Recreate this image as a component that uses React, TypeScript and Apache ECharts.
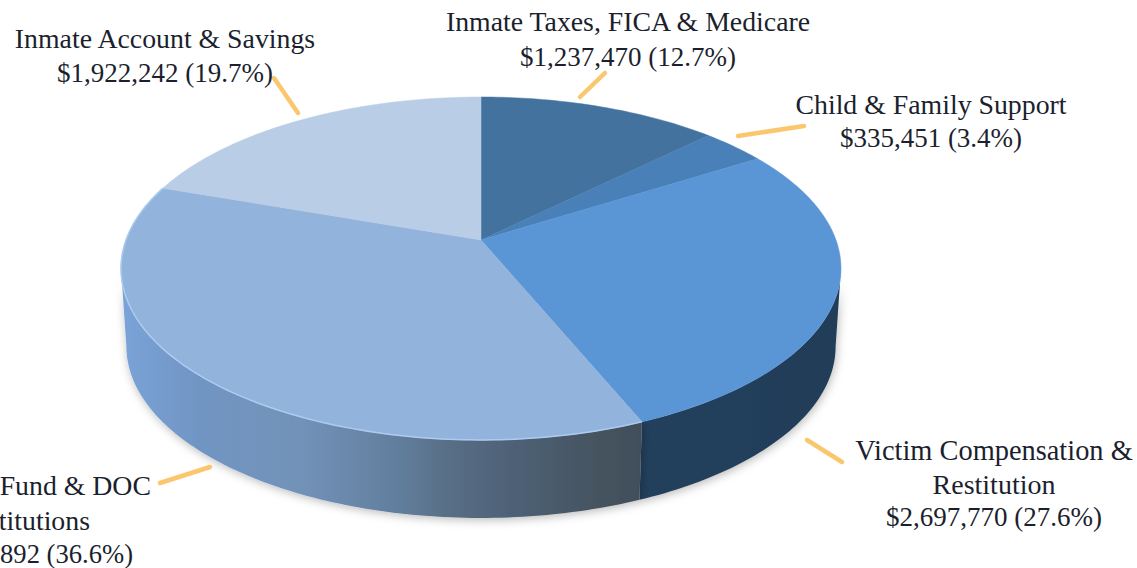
import React, { useEffect, useRef } from "react";
import * as echarts from "echarts";

// Slices, clockwise from 12 o'clock
const sliceNames = [
  "Inmate Taxes, FICA & Medicare",
  "Child & Family Support",
  "Victim Compensation & Restitution",
  "Fund & DOC Institutions",
  "Inmate Account & Savings",
];
const sliceValues = [1237470, 335451, 2697770, 3572892, 1922242];
const topColors = ["#44729f", "#4a80b8", "#5a96d6", "#92b3dc", "#b9cde6"];
const total = sliceValues.reduce((a, b) => a + b, 0);

// Labels
const labelTexts = [
  ["Inmate Taxes, FICA & Medicare", "$1,237,470 (12.7%)"],
  ["Child & Family Support", "$335,451 (3.4%)"],
  ["Victim Compensation &", "Restitution", "$2,697,770 (27.6%)"],
  ["Inmate Account & Savings", "$1,922,242 (19.7%)"],
];
const clippedTexts = ["Fund & DOC", "titutions", "892 (36.6%)"];

// Layout
const W = 1137;
const H = 568;
const apexX = 481;
const apexY = 240;
const scaleK = 355;
const persp = -0.166;
const scaleY = 126.9;
const depth = 78;
const bottomShrink = 0.985;
// Fractions of the turn at which the rim leaves the visible front of the disc
const frontStart = Math.acos(persp) / (2 * Math.PI);
const frontEnd = 1 - frontStart;

const project = (frac: number) => {
  const t = frac * Math.PI * 2;
  const ux = Math.sin(t);
  const uy = -Math.cos(t);
  const d = 1 + persp * uy;
  return [apexX + (scaleK * ux) / d, (scaleY * uy + apexY) / d];
};

const arcPoints = (f0: number, f1: number) => {
  const n = Math.max(4, Math.ceil((f1 - f0) * 360));
  const pts: number[][] = [];
  for (let i = 0; i <= n; i++) pts.push(project(f0 + ((f1 - f0) * i) / n));
  return pts;
};

const range = (i: number) => {
  let s = 0;
  for (let k = 0; k < i; k++) s += sliceValues[k];
  return [s / total, (s + sliceValues[i]) / total];
};

const lg = (stops: [number, string][]) => ({
  type: "linear",
  x: 0,
  y: 0,
  x2: 1,
  y2: 0,
  colorStops: stops.map(([offset, color]) => ({ offset, color })),
});

const wallFill = (i: number) => {
  if (i === 3)
    return lg([
      [0, "#7aa3d8"],
      [0.15, "#7195c3"],
      [0.345, "#7292b8"],
      [0.54, "#617d9c"],
      [0.61, "#5a7189"],
      [0.73, "#4f6379"],
      [0.92, "#45535f"],
      [1, "#424e5a"],
    ]);
  return lg([
    [0, "#233f5b"],
    [0.5, "#233f5b"],
    [1, "#203c58"],
  ]);
};

const wallPolygon = (i: number) => {
  const [r0, r1] = range(i);
  const f0 = Math.max(r0, frontStart);
  const f1 = Math.min(r1, frontEnd);
  if (f1 <= f0) return null;
  const top = arcPoints(f0, f1);
  const bottom = top
    .map(([x, y]) => [apexX + (x - apexX) * bottomShrink, y + depth])
    .reverse();
  return top.concat(bottom);
};

const leaderLines = [
  [580, 97, 605, 73],
  [738, 136, 804, 126],
  [807, 440, 842, 462],
  [160, 483, 210, 467],
  [274, 78, 298, 113],
];

const labelPlaces = [
  { x: 628, ys: [21, 57], sizes: [27.8, 27] },
  { x: 931, ys: [104, 138], sizes: [27.8, 27] },
  { x: 994, ys: [450, 484, 517], sizes: [28.4, 28, 27] },
  { x: 165, ys: [38, 73], sizes: [27.8, 27] },
];
const clippedPlaces = [
  { x: 151, y: 485, size: 27.8 },
  { x: 90, y: 520, size: 27.8 },
  { x: 133, y: 554, size: 26.6 },
];

const textEl = (text: string, x: number, y: number, align: string, size: number) => ({
  type: "text",
  z: 20,
  style: {
    text,
    x,
    y,
    align,
    verticalAlign: "middle",
    fill: "#1b1f2e",
    font: `${size}px 'Liberation Serif'`,
  },
});

export default function App() {
  const ref = useRef<HTMLDivElement>(null);

  useEffect(() => {
    if (!ref.current) return;
    const chart = echarts.init(ref.current, undefined, { renderer: "svg" });
    const graphics: any[] = [];
    leaderLines.forEach(([x1, y1, x2, y2]) =>
      graphics.push({
        type: "line",
        z: 15,
        shape: { x1, y1, x2, y2 },
        style: { stroke: "#fac76e", lineWidth: 4.5, lineCap: "round" },
      })
    );
    labelTexts.forEach((lines, i) =>
      lines.forEach((t, j) =>
        graphics.push(
          textEl(t, labelPlaces[i].x, labelPlaces[i].ys[j], "center", labelPlaces[i].sizes[j])
        )
      )
    );
    clippedTexts.forEach((t, i) =>
      graphics.push(textEl(t, clippedPlaces[i].x, clippedPlaces[i].y, "right", clippedPlaces[i].size))
    );

    const seriesData = sliceNames.map((name, i) => ({ name, value: sliceValues[i] }));

    chart.setOption({
      animation: false,
      backgroundColor: "#ffffff",
      graphic: { elements: graphics },
      series: [
        {
          type: "custom",
          coordinateSystem: "none",
          silent: true,
          z: 2,
          data: seriesData,
          renderItem: (params: any) => {
            const points = wallPolygon(params.dataIndex);
            if (!points) return { type: "group", children: [] };
            return {
              type: "polygon",
              shape: { points },
              style: {
                fill: wallFill(params.dataIndex),
                shadowBlur: 10,
                shadowColor: "rgba(0,0,0,0.28)",
                shadowOffsetX: 1,
                shadowOffsetY: 2,
              },
            };
          },
        },
        {
          type: "custom",
          coordinateSystem: "none",
          silent: true,
          z: 3,
          data: seriesData,
          renderItem: (params: any) => {
            const i = params.dataIndex;
            const [f0, f1] = range(i);
            const arc = arcPoints(f0, f1);
            return {
              type: "group",
              children: [
                {
                  type: "polygon",
                  shape: { points: [[apexX, apexY], ...arc] },
                  style: { fill: topColors[i], stroke: topColors[i], lineWidth: 0.5 },
                },
                ...(i === 3
                  ? [
                      {
                        type: "polyline",
                        shape: { points: arc },
                        style: { fill: "none", stroke: "#aecbef", lineWidth: 1.5 },
                      },
                    ]
                  : []),
              ],
            };
          },
        },
      ],
    });
    return () => chart.dispose();
  }, []);

  return (
    <div
      ref={ref}
      style={{ position: "fixed", left: 0, top: 0, width: W, height: H, background: "#fff" }}
    />
  );
}
